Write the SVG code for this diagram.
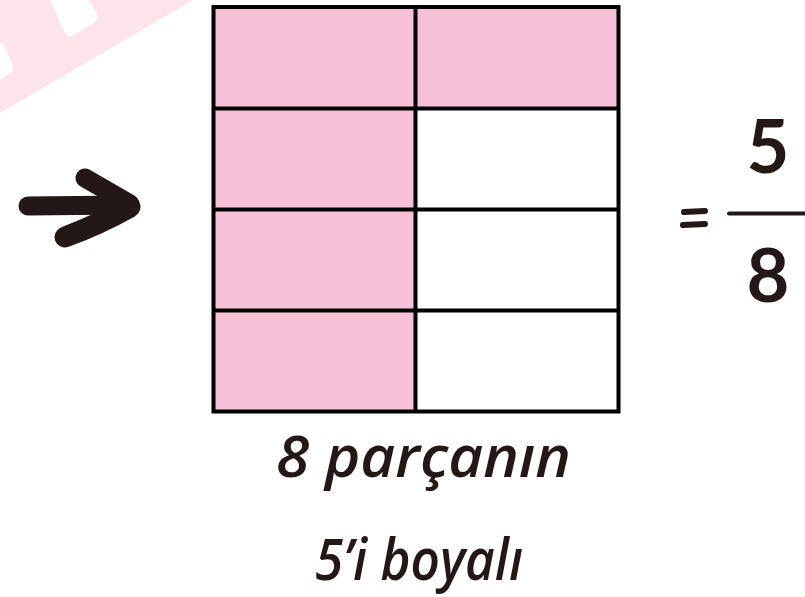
<svg xmlns="http://www.w3.org/2000/svg" width="805" height="597" viewBox="0 0 805 597">
  <style>
    .ink { fill: #231815; }
    .stroke-ink { stroke: #231815; fill: none; stroke-linecap: round; stroke-linejoin: round; }
    .cell-on { fill: #f6c0d8; }
    .cell-off { fill: #ffffff; }
    .grid { stroke: #000000; stroke-width: 4; fill: none; }
    .hand { font-family: "Open Sans", "Noto Sans", "DejaVu Sans", sans-serif; font-style: italic; font-weight: 600; font-size: 58px; fill: #231815; }
    .num { font-family: "Lato", "Open Sans", "DejaVu Sans", sans-serif; font-weight: 700; font-size: 74px; fill: #231815; }
  </style>

  <rect width="805" height="597" fill="#ffffff"/>

  <!-- faint background mark in the corner -->
  <g id="corner-mark">
    <path d="M0,0 L193,0 L0,113 Z" fill="#fce4e8"/>
    <path d="M50,0 L88,0 Q93,6 97,14 Q99,20 94,23 L74,35 Q68,38 65,33 Z" fill="#ffffff"/>
    <path d="M0,43 L3,43 L13,66 Q14,71 10,73 L0,80 Z" fill="#ffffff"/>
  </g>

  <!-- pointing arrow -->
  <g id="arrow">
    <path class="stroke-ink" stroke-width="19" d="M28,206 L126,205"/>
    <path class="stroke-ink" stroke-width="19" d="M85,178 L130,204"/>
    <path class="stroke-ink" stroke-width="21" d="M65,237 Q100,224 130,207"/>
  </g>

  <!-- 4x2 grid, 5 of 8 parts shaded -->
  <g id="grid">
    <rect class="cell-on" x="213.5" y="7" width="202" height="101.5"/>
    <rect class="cell-on" x="415.5" y="7" width="203" height="101.5"/>
    <rect class="cell-on" x="213.5" y="108.5" width="202" height="101"/>
    <rect class="cell-off" x="415.5" y="108.5" width="203" height="101"/>
    <rect class="cell-on" x="213.5" y="209.5" width="202" height="101"/>
    <rect class="cell-off" x="415.5" y="209.5" width="203" height="101"/>
    <rect class="cell-on" x="213.5" y="310.5" width="202" height="101"/>
    <rect class="cell-off" x="415.5" y="310.5" width="203" height="101"/>
    <rect class="grid" x="213.5" y="7" width="405" height="404.5"/>
    <line class="grid" x1="415.5" y1="7" x2="415.5" y2="411.5"/>
    <line class="grid" x1="213.5" y1="108.5" x2="618.5" y2="108.5"/>
    <line class="grid" x1="213.5" y1="209.5" x2="618.5" y2="209.5"/>
    <line class="grid" x1="213.5" y1="310.5" x2="618.5" y2="310.5"/>
  </g>

  <!-- equals sign and fraction 5/8 -->
  <g id="fraction">
    <path class="stroke-ink" stroke-width="6" d="M684,212 L705,211"/>
    <path class="stroke-ink" stroke-width="6" d="M683,225 L705,224"/>
    <line class="stroke-ink" stroke-width="4" x1="729" y1="213.5" x2="805" y2="213.5"/>
    <text class="num" x="768" y="173" text-anchor="middle">5</text>
    <text class="num" x="768" y="302" text-anchor="middle">8</text>
  </g>

  <!-- caption -->
  <g id="caption">
    <text class="hand" x="276" y="477" textLength="295" lengthAdjust="spacingAndGlyphs">8 parçanın</text>
    <text class="hand" x="315" y="580" textLength="208" lengthAdjust="spacingAndGlyphs">5’i boyalı</text>
  </g>
</svg>
